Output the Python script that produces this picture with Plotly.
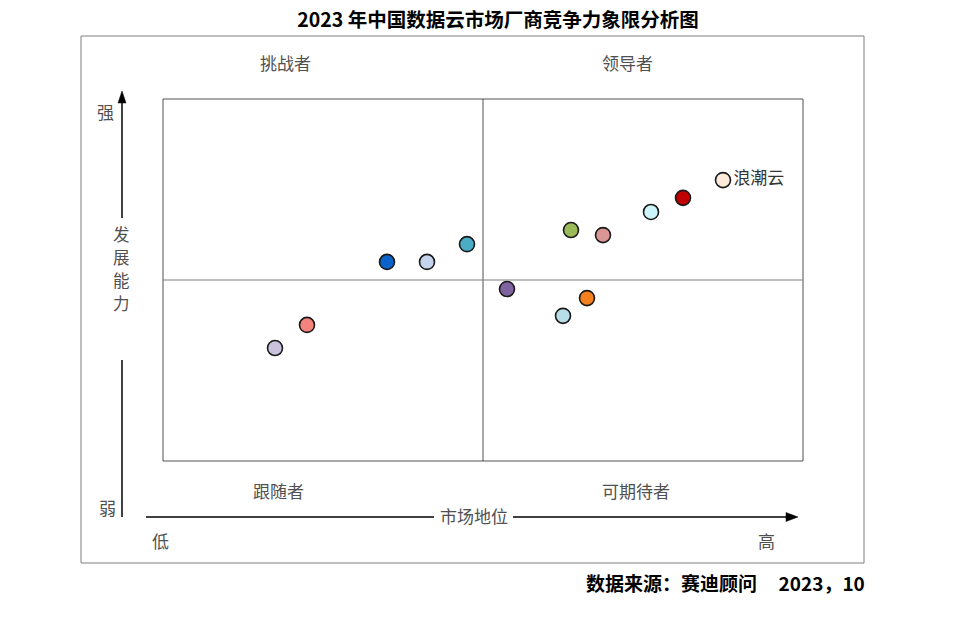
import plotly.graph_objects as go

# data (market position x, development capability y), 0-100 scale
x_pos = [17.5, 22.5, 35.0, 41.25, 47.5, 53.75, 62.5, 66.25, 63.75, 68.75, 76.25, 81.25, 87.5]
y_dev = [31.2, 37.6, 55.0, 55.0, 59.9, 47.5, 40.1, 45.0, 63.8, 62.4, 68.8, 72.7, 77.6]
colors = ["#c9c3dd", "#f4837d", "#0a63c9", "#c5d3ec", "#4bacc6", "#8064a2", "#b7dde8",
          "#f5801e", "#9bbb59", "#d99694", "#ccf5fa", "#c00000", "#fdeada"]
labels = ["", "", "", "", "", "", "", "", "", "", "", "", "浪潮云"]
quadrant_names = ["挑战者", "领导者", "跟随者", "可期待者"]
y_axis_chars = ["发", "展", "能", "力"]
title_text = "2023 年中国数据云市场厂商竞争力象限分析图"
source_text = "数据来源：赛迪顾问\u00a0\u00a0\u00a0\u00a0\u00a02023，10"

# target plot-area position on the page (pixels)
L, R, T, B = 163, 803, 99, 461
W, H = 960, 632
OFF = 8  # page body margin

def px(x):
    return (x - L) / (R - L)

def py(y):
    return (B - y) / (B - T)

FONT = "Noto Sans CJK SC"
GRAY = "#505050"

fig = go.Figure()
fig.add_trace(go.Scatter(
    x=x_pos, y=y_dev, mode="markers+text",
    text=labels, textposition="middle right",
    textfont=dict(family=FONT, size=17, color="#333333"),
    marker=dict(size=15, color=colors, line=dict(color="#1a1a1a", width=1.6)),
    hoverinfo="skip", cliponaxis=False,
))

shapes = []
# outer frame
shapes.append(dict(type="rect", xref="paper", yref="paper", x0=px(81), x1=px(864), y0=py(563), y1=py(36),
                   line=dict(color="#7f7f7f", width=1)))
# inner box
shapes.append(dict(type="rect", xref="paper", yref="paper", x0=0, x1=1, y0=0, y1=1,
                   line=dict(color=GRAY, width=1)))
# mid lines
shapes.append(dict(type="line", xref="x", yref="paper", x0=50, x1=50, y0=0, y1=1,
                   line=dict(color=GRAY, width=1)))
shapes.append(dict(type="line", xref="paper", yref="y", x0=0, x1=1, y0=50, y1=50,
                   line=dict(color="#7f7f7f", width=1.2)))
# vertical arrow axis
ax_x = 122
shapes.append(dict(type="line", xref="paper", yref="paper", x0=px(ax_x), x1=px(ax_x), y0=py(218), y1=py(97),
                   line=dict(color="#000000", width=1.5)))
shapes.append(dict(type="line", xref="paper", yref="paper", x0=px(ax_x), x1=px(ax_x), y0=py(517), y1=py(360),
                   line=dict(color="#000000", width=1.5)))
shapes.append(dict(type="path", xref="paper", yref="paper",
                   path=f"M {px(ax_x-4)} {py(103)} L {px(ax_x+4)} {py(103)} L {px(ax_x)} {py(91)} Z",
                   fillcolor="#000000", line=dict(color="#000000", width=0.5)))
# horizontal arrow axis
ax_y = 517
shapes.append(dict(type="line", xref="paper", yref="paper", x0=px(146), x1=px(434), y0=py(ax_y), y1=py(ax_y),
                   line=dict(color="#000000", width=1.5)))
shapes.append(dict(type="line", xref="paper", yref="paper", x0=px(513), x1=px(790), y0=py(ax_y), y1=py(ax_y),
                   line=dict(color="#000000", width=1.5)))
shapes.append(dict(type="path", xref="paper", yref="paper",
                   path=f"M {px(786)} {py(ax_y-4.5)} L {px(786)} {py(ax_y+4.5)} L {px(798)} {py(ax_y)} Z",
                   fillcolor="#000000", line=dict(color="#000000", width=0.5)))

def ann(text, x, y, size=17, color=GRAY, bold=False, xanchor="center", pad=1):
    t = f"<b>{text}</b>" if bold else text
    return dict(text=t, x=px(x), y=py(y), xref="paper", yref="paper", showarrow=False,
                xanchor=xanchor, yanchor="middle", borderpad=pad,
                font=dict(family=FONT, size=size, color=color))

annotations = [
    ann(quadrant_names[0], 285, 62),
    ann(quadrant_names[1], 627, 62),
    ann(quadrant_names[2], 278, 491),
    ann(quadrant_names[3], 636, 491),
    ann("强", 105, 112),
    ann("弱", 107, 507),
    ann("市场地位", 474, 516),
    ann("低", 160, 540),
    ann("高", 766, 540),
    ann(source_text, 867, 582, size=19, color="#000000", bold=True, xanchor="right"),
]
for i, ch in enumerate(y_axis_chars):
    annotations.append(ann(ch, 121, 234 + i * 23, size=16.5, pad=0))

fig.update_layout(
    width=W, height=H,
    margin=dict(l=L - OFF, r=W - (R - OFF), t=T - OFF, b=H - (B - OFF)),
    paper_bgcolor="white", plot_bgcolor="white",
    title=dict(text=f"<b>{title_text}</b>", x=(498 - OFF) / W, xanchor="center",
               y=1 - (20 - OFF) / H, yanchor="middle", xref="container", yref="container",
               font=dict(family=FONT, size=19.5, color="#000000")),
    xaxis=dict(range=[0, 100], visible=False, fixedrange=True),
    yaxis=dict(range=[0, 100], visible=False, fixedrange=True),
    showlegend=False,
    shapes=shapes,
    annotations=annotations,
)
fig.write_html("out.html")
